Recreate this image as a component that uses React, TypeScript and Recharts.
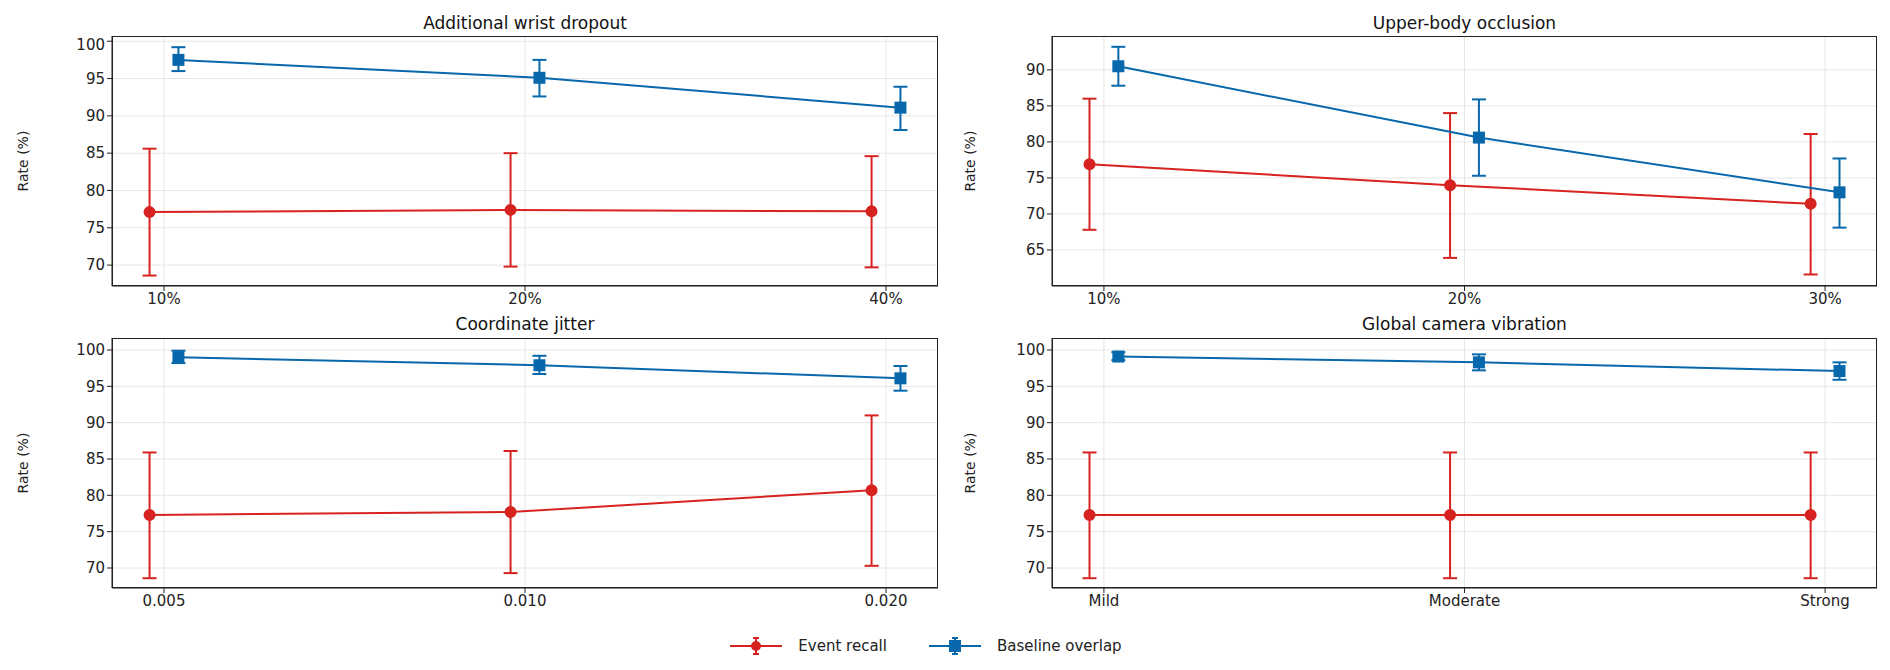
import { ComposedChart, Line, XAxis, YAxis, CartesianGrid, ErrorBar } from "recharts";

const RED = "#d62320";
const BLUE = "#0868ac";

// per panel: [mean, low, high]
const wristLabels = ["10%", "20%", "40%"];
const wristRecall = [[77.1, 68.6, 85.6], [77.4, 69.8, 85.0], [77.2, 69.7, 84.6]];
const wristOverlap = [[97.5, 96.0, 99.2], [95.1, 92.6, 97.5], [91.1, 88.1, 93.9]];

const occLabels = ["10%", "20%", "30%"];
const occRecall = [[76.9, 67.8, 86.0], [74.0, 63.9, 84.0], [71.4, 61.6, 81.1]];
const occOverlap = [[90.5, 87.8, 93.2], [80.6, 75.3, 85.9], [73.0, 68.1, 77.7]];

const jitterLabels = ["0.005", "0.010", "0.020"];
const jitterRecall = [[77.3, 68.6, 85.9], [77.7, 69.3, 86.1], [80.7, 70.3, 91.0]];
const jitterOverlap = [[99.0, 98.2, 99.9], [97.9, 96.7, 99.2], [96.1, 94.4, 97.8]];

const vibLabels = ["Mild", "Moderate", "Strong"];
const vibRecall = [[77.3, 68.6, 85.9], [77.3, 68.6, 85.9], [77.3, 68.6, 85.9]];
const vibOverlap = [[99.1, 98.6, 99.7], [98.3, 97.2, 99.4], [97.1, 95.9, 98.3]];

const toRows = (vals: number[][], shift: number) =>
  vals.map(([m, lo, hi], i) => ({ x: i + shift, y: m, err: [m - lo, hi - m] }));

const Square = (props: any) => {
  const { cx, cy } = props;
  if (cx == null || cy == null) return null;
  return <rect x={cx - 6} y={cy - 6} width={12} height={12} fill={BLUE} />;
};

const font = "DejaVu Sans, sans-serif";

type PanelProps = {
  title: string;
  titleY: number;
  labels: string[];
  recall: number[][];
  overlap: number[][];
  domain: [number, number];
  ticks: number[];
  plotLeft: number;
  plotRight: number;
  plotTop: number;
  labelX: number;
};

const Panel = (p: PanelProps) => {
  const plotW = p.plotRight - p.plotLeft;
  const plotH = 250;
  const chartLeft = p.labelX - 20;
  const yW = p.plotLeft - chartLeft;
  const tickStyle = { fontSize: 15, fill: "#222", fontFamily: font };
  return (
    <>
      <div
        style={{
          position: "absolute",
          left: p.plotLeft,
          width: plotW,
          top: p.titleY - 11,
          textAlign: "center",
          fontSize: 17,
          fontFamily: font,
          color: "#111",
        }}
      >
        {p.title}
      </div>
      <div style={{ position: "absolute", left: chartLeft, top: p.plotTop }}>
        <ComposedChart width={yW + plotW} height={plotH + 30} margin={{ top: 0, right: 0, bottom: 0, left: 0 }}>
          <CartesianGrid stroke="#e6e6e6" />
          <XAxis
            type="number"
            dataKey="x"
            domain={[-0.144, 2.144]}
            ticks={[0, 1, 2]}
            tickFormatter={(v: number) => p.labels[v]}
            allowDataOverflow
            height={30}
            stroke="#222"
            tick={tickStyle}
            tickSize={5}
          />
          <YAxis
            type="number"
            domain={p.domain}
            ticks={p.ticks}
            allowDataOverflow
            width={yW}
            stroke="#222"
            tick={tickStyle}
            tickSize={5}
            label={{ value: "Rate (%)", angle: -90, position: "insideLeft", offset: 16, style: { fontSize: 14, fontFamily: font, fill: "#222", textAnchor: "middle" } }}
          />
          <Line
            data={toRows(p.recall, -0.04)}
            dataKey="y"
            stroke={RED}
            strokeWidth={2}
            dot={{ r: 5, fill: RED, stroke: RED }}
            isAnimationActive={false}
          >
            <ErrorBar dataKey="err" direction="y" stroke={RED} strokeWidth={2} width={7} />
          </Line>
          <Line
            data={toRows(p.overlap, 0.04)}
            dataKey="y"
            stroke={BLUE}
            strokeWidth={2}
            dot={<Square />}
            isAnimationActive={false}
          >
            <ErrorBar dataKey="err" direction="y" stroke={BLUE} strokeWidth={2} width={7} />
          </Line>
        </ComposedChart>
      </div>
      <div
        style={{
          position: "absolute",
          left: p.plotLeft,
          top: p.plotTop,
          width: plotW,
          height: plotH,
          border: "1.5px solid #222",
          boxSizing: "border-box",
          pointerEvents: "none",
        }}
      />
    </>
  );
};

const LegendItem = ({ color, square, text }: { color: string; square?: boolean; text: string }) => (
  <div style={{ display: "flex", alignItems: "center", marginRight: 40 }}>
    <svg width={56} height={20}>
      <line x1={2} y1={10} x2={54} y2={10} stroke={color} strokeWidth={2} />
      <line x1={28} y1={2} x2={28} y2={18} stroke={color} strokeWidth={2} />
      <line x1={25} y1={2} x2={31} y2={2} stroke={color} strokeWidth={2} />
      <line x1={25} y1={18} x2={31} y2={18} stroke={color} strokeWidth={2} />
      {square ? <rect x={22} y={4} width={12} height={12} fill={color} /> : <circle cx={28} cy={10} r={5} fill={color} />}
    </svg>
    <span style={{ marginLeft: 14, fontSize: 15, fontFamily: font, color: "#222" }}>{text}</span>
  </div>
);

export default function App() {
  return (
    <div style={{ position: "absolute", left: 0, top: 0, width: 1890, height: 670, background: "#fff" }}>
      <Panel title="Additional wrist dropout" titleY={24} labels={wristLabels} recall={wristRecall} overlap={wristOverlap}
        domain={[67.2, 100.7]} ticks={[70, 75, 80, 85, 90, 95, 100]} plotLeft={112} plotRight={938} plotTop={36} labelX={27} />
      <Panel title="Upper-body occlusion" titleY={24} labels={occLabels} recall={occRecall} overlap={occOverlap}
        domain={[60.0, 94.7]} ticks={[65, 70, 75, 80, 85, 90]} plotLeft={1052} plotRight={1877} plotTop={36} labelX={974} />
      <Panel title="Coordinate jitter" titleY={325} labels={jitterLabels} recall={jitterRecall} overlap={jitterOverlap}
        domain={[67.25, 101.65]} ticks={[70, 75, 80, 85, 90, 95, 100]} plotLeft={112} plotRight={938} plotTop={338} labelX={27} />
      <Panel title="Global camera vibration" titleY={325} labels={vibLabels} recall={vibRecall} overlap={vibOverlap}
        domain={[67.25, 101.65]} ticks={[70, 75, 80, 85, 90, 95, 100]} plotLeft={1052} plotRight={1877} plotTop={338} labelX={974} />
      <div style={{ position: "absolute", top: 636, left: 0, width: 1890, display: "flex", justifyContent: "center" }}>
        <LegendItem color={RED} text="Event recall" />
        <LegendItem color={BLUE} square text="Baseline overlap" />
      </div>
    </div>
  );
}
